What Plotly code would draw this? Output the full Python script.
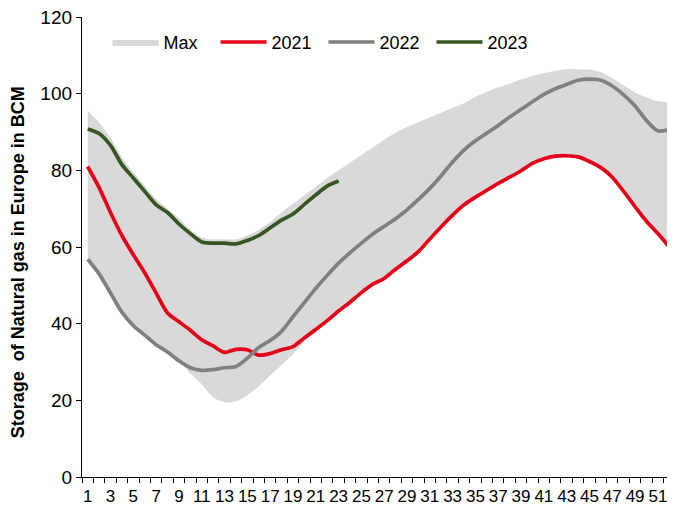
import plotly.graph_objects as go

weeks = list(range(1, 53))
x_tick_vals = weeks[::2]
x_tick_labels = [str(w) for w in x_tick_vals]

band_max = [95.5, 92.5, 88.5, 83.5, 79.5, 76, 72.5, 70, 67.5, 64.5,
            62.5, 62, 62, 62, 63, 64.5, 66.5, 69, 71.3, 73.5,
            75.7, 78, 80, 82, 84, 86, 88, 89.8, 91.3, 92.6,
            93.8, 95, 96.3, 97.5, 99.2, 100.5, 101.7, 102.6, 103.7, 104.6,
            105.3, 106, 106.4, 106.4, 106.3, 105.6, 104, 102.2, 100.3, 99,
            98, 97.7]

band_min = [56.8, 53, 48, 43, 39.5, 37, 34.5, 32.6, 30.3, 27,
            24.2, 20.8, 19.5, 19.7, 21.3, 23.7, 26.5, 29.2, 32, 35.3,
            38.3, 40.6, 43.1, 45.4, 47.9, 50.1, 51.6, 54, 56.2, 58.6,
            61.9, 65.1, 68.1, 70.7, 72.8, 74.6, 76.4, 77.9, 79.6, 81.6,
            82.8, 83.5, 83.6, 83.3, 82.1, 80.5, 78, 74.3, 70.3, 66.5,
            63.3, 59.8]

y2021 = [81, 75.5, 69, 63, 58, 53.3, 48, 42.8, 40.5, 38.3,
         35.8, 34.2, 32.5, 33.3, 33.2, 31.8, 32.2, 33.2, 34, 36.3,
         38.5, 40.8, 43.3, 45.6, 48.1, 50.3, 51.8, 54.2, 56.4, 58.8,
         62.1, 65.3, 68.3, 71, 73, 74.8, 76.6, 78.2, 79.9, 81.8,
         83, 83.7, 83.8, 83.5, 82.3, 80.7, 78.2, 74.5, 70.5, 66.7,
         63.5, 60]

y2022 = [56.8, 53, 48, 43, 39.5, 37, 34.5, 32.6, 30.3, 28.5,
         27.8, 28, 28.5, 28.8, 31, 33.8, 35.6, 38, 41.8, 45.5,
         49.2, 52.6, 55.8, 58.5, 61, 63.4, 65.4, 67.4, 69.7, 72.4,
         75.3, 78.6, 82.2, 85.3, 87.7, 89.7, 91.7, 93.9, 95.9, 97.9,
         99.8, 101.3, 102.4, 103.5, 103.8, 103.5, 102, 99.7, 96.8, 93,
         90.3, 90.6]

y2023 = [90.8, 89.6, 86.5, 81.5, 78, 74.5, 71, 69, 66, 63.5,
         61.3, 61, 61, 60.8, 61.7, 63, 65, 67, 68.6, 71.1,
         73.6, 75.9, 77.2]

FONT = "Liberation Sans, Arial, sans-serif"

fig = go.Figure()
fig.add_trace(go.Scatter(x=weeks, y=band_min, mode="lines", line=dict(width=0, shape="spline"),
                         showlegend=False, hoverinfo="skip"))
fig.add_trace(go.Scatter(x=weeks, y=band_max, mode="lines", fill="tonexty", fillcolor="#D9D9D9",
                         line=dict(width=0, color="#D9D9D9", shape="spline"), name="Max"))
fig.add_trace(go.Scatter(x=weeks, y=y2021, mode="lines", name="2021",
                         line=dict(color="#E5001A", width=3.7, shape="spline", smoothing=0.8)))
fig.add_trace(go.Scatter(x=weeks, y=y2022, mode="lines", name="2022",
                         line=dict(color="#808080", width=3.7, shape="spline", smoothing=0.8)))
fig.add_trace(go.Scatter(x=weeks[:len(y2023)], y=y2023, mode="lines", name="2023",
                         line=dict(color="#375623", width=3.7, shape="spline", smoothing=0.8)))

# the page body adds an 8px offset; size the figure to fill the rest of the window
fig.update_layout(
    width=667, height=504,
    margin=dict(l=74, r=0, t=9, b=35),
    paper_bgcolor="white", plot_bgcolor="white",
    font=dict(family=FONT, color="black", size=17),
    showlegend=True,
    legend=dict(orientation="h", x=0.043, y=0.945, xanchor="left", yanchor="middle",
                bgcolor="rgba(0,0,0,0)", font=dict(size=18, family=FONT),
                entrywidth=47, entrywidthmode="pixels", itemwidth=46,
                traceorder="normal"),
    xaxis=dict(range=[0.5, 52.5], tickmode="array", tickvals=x_tick_vals, ticktext=x_tick_labels,
               ticks="", showline=True, linecolor="black", linewidth=1.3, showgrid=False,
               zeroline=False, tickangle=0, automargin=False, ticklabeloverflow="allow",
               ticklabelstandoff=3, tickfont=dict(size=17, family=FONT),
               minor=dict(ticks="outside", ticklen=5, tick0=0.5, dtick=1, tickcolor="black",
                          tickwidth=1.2, showgrid=False)),
    yaxis=dict(range=[0, 120], dtick=20, ticks="outside", ticklen=5, tickcolor="black", tickwidth=1.2,
               showline=True, linecolor="black", linewidth=1.3, showgrid=False, zeroline=False,
               automargin=False, ticklabeloverflow="allow", tickfont=dict(size=19, family=FONT)),
    annotations=[dict(text="Storage \u00a0of Natural gas in Europe in BCM", textangle=-90,
                      xref="paper", yref="paper", x=0, y=0.467, xanchor="center", yanchor="middle",
                      xshift=-64, showarrow=False,
                      font=dict(size=18, family=FONT, color="black", weight="bold"))],
)

fig.write_html("out.html")
